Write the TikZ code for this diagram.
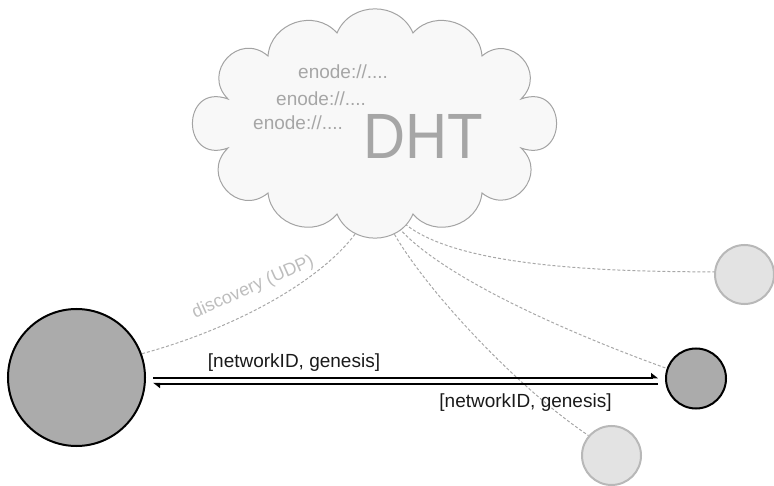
\documentclass[tikz,border=0pt]{standalone}
\usepackage{fontspec}
\setmainfont{Liberation Sans}
\usetikzlibrary{calc,arrows.meta}
\definecolor{cloudfill}{HTML}{F8F8F8}
\definecolor{cloudline}{HTML}{A3A3A3}
\definecolor{cloudtext}{HTML}{A6A6A6}
\definecolor{darkfill}{HTML}{ABABAB}
\definecolor{lightfill}{HTML}{E3E3E3}
\definecolor{lightline}{HTML}{B8B8B8}
\definecolor{dashline}{HTML}{A8A8A8}
\definecolor{disctext}{HTML}{BDBDBD}
\definecolor{labeltext}{HTML}{1A1A1A}
\newcommand\cloudlobe[4]{.. controls ($#1!#3!#4:#2$) and ($#2!#3!-#4:#1$) .. #2}
\begin{document}
\begin{tikzpicture}[x=1pt,y=-1pt,
  darknode/.style={circle,draw=black,line width=2pt,fill=darkfill,inner sep=0pt},
  lightnode/.style={circle,draw=lightline,line width=2pt,fill=lightfill,inner sep=0pt,minimum size=59pt},
  peerlink/.style={draw=dashline,line width=1pt,dash pattern=on 3pt off 2pt},
  msg/.style={draw=black,line width=2pt},
  lbl/.style={text=labeltext,font=\fontsize{19}{19}\selectfont,inner sep=0pt,anchor=base},
  enode/.style={text=cloudtext,font=\fontsize{19}{19}\selectfont,inner sep=0pt,anchor=base west}]
\useasboundingbox (0,0) rectangle (774,486);

% circles (positions)
\node[darknode,minimum size=137pt] (big) at (76.5,377.5) {};
\node[darknode,minimum size=60pt] (dark) at (696,378.5) {};
\node[lightnode] (lt) at (744.5,274.5) {};
\node[lightnode] (lb) at (611.5,455.5) {};

% connector start points inside the cloud
\coordinate (sD) at (358,230);
\coordinate (sB) at (392,230);
\coordinate (sR) at (399,228);
\coordinate (sT) at (405,224);

\draw[peerlink] (sD) .. controls (322,282) and (230,330) .. (big.20);
\draw[peerlink] (sB) .. controls (425,290) and (520,390) .. (lb.139);
\draw[peerlink] (sR) .. controls (440,275) and (560,330) .. (dark.161);
\draw[peerlink] (sT) .. controls (450,260) and (560,272) .. (lt.175);

% cloud
\coordinate (n1) at (337,33);
\coordinate (n2) at (413,33);
\coordinate (n3) at (482,56);
\coordinate (n4) at (521,99);
\coordinate (n5) at (521,148);
\coordinate (n6) at (482,193);
\coordinate (n7) at (413,214);
\coordinate (n8) at (337,214);
\coordinate (n9) at (268,193);
\coordinate (n10) at (228,148);
\coordinate (n11) at (228,99);
\coordinate (n12) at (268,56);
\path[draw=cloudline,fill=cloudfill,line width=1pt] (n1)
  \cloudlobe{(n1)}{(n2)}{0.46}{67}
  \cloudlobe{(n2)}{(n3)}{0.46}{67}
  \cloudlobe{(n3)}{(n4)}{0.65}{88}
  \cloudlobe{(n4)}{(n5)}{1.03}{110}
  \cloudlobe{(n5)}{(n6)}{0.65}{88}
  \cloudlobe{(n6)}{(n7)}{0.46}{67}
  \cloudlobe{(n7)}{(n8)}{0.46}{67}
  \cloudlobe{(n8)}{(n9)}{0.46}{67}
  \cloudlobe{(n9)}{(n10)}{0.65}{88}
  \cloudlobe{(n10)}{(n11)}{1.03}{110}
  \cloudlobe{(n11)}{(n12)}{0.65}{88}
  \cloudlobe{(n12)}{(n1)}{0.46}{67} -- cycle;

\node[enode] (e1) at (298,79) {enode://....};
\node[enode] (e2) at (276,106) {enode://....};
\node[enode] (e3) at (253,129.5) {enode://....};
\node[text=cloudtext,inner sep=0pt,anchor=base west] (dht) at (363.5,159)
  {\scalebox{0.91}[1]{\fontsize{64}{64}\selectfont DHT}};

\node[text=disctext,font=\fontsize{18}{18}\selectfont,rotate=24,inner sep=0pt,anchor=base] (disc) at (255,291.5) {discovery (UDP)};

% messages
\draw[msg,-{Triangle[left,length=6pt,width=9pt]}] ([xshift=7pt]big.east) -- ([xshift=-7pt]big.east -| dark.west);
\draw[msg,-{Triangle[left,length=6pt,width=9pt]}] ([xshift=-7pt,yshift=-6pt]big.east -| dark.west) -- ([xshift=7pt,yshift=-6pt]big.east);
\node[lbl] (m1) at (294,367.5) {[networkID, genesis]};
\node[lbl] (m2) at (525.5,407.5) {[networkID, genesis]};
\end{tikzpicture}
\end{document}
